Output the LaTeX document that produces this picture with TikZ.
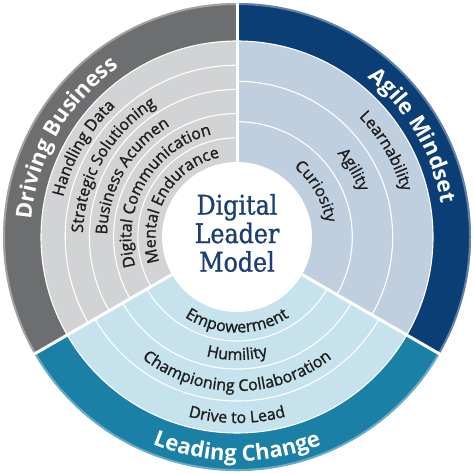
\documentclass[tikz,border=0pt]{standalone}
\usepackage{fontspec}
\setsansfont{Open Sans}
\newfontfamily\ringface[FakeBold=1.2]{Open Sans}
\newfontfamily\modelfont[FakeStretch=0.88, FakeBold=1]{DejaVu Serif}
\usetikzlibrary{decorations.text}

\definecolor{dbdark}{HTML}{6D6E70}
\definecolor{dblight}{HTML}{D2D3D5}
\definecolor{amdark}{HTML}{0B3E75}
\definecolor{amlight}{HTML}{C0CFE0}
\definecolor{lcdark}{HTML}{1A80A5}
\definecolor{lclight}{HTML}{C6E2EC}
\definecolor{modelblue}{HTML}{1B3F73}
\definecolor{ringink}{HTML}{1E1C1D}

\newcommand{\ringfont}{\ringface\fontsize{16}{16}\selectfont\color{ringink}}
\newcommand{\headfont}{\sffamily\bfseries\fontsize{22}{22}\selectfont\color{white}}

\begin{document}
\begin{tikzpicture}[x=1pt, y=1pt,
  sep/.style={draw=white, line width=3pt},
  ringline/.style={draw=white, line width=1.1pt},
  ringlabel/.style={decorate, decoration={text along path, text align=center, text={|\ringfont|#1}}},
  headlabel/.style={decorate, decoration={text along path, text align=center, text={|\headfont|#1}}}
]
\useasboundingbox (0,0) rectangle (474,474);
\begin{scope}[shift={(237,237)}]
% sectors
\fill[dbdark] (0,0) -- (90:234pt) arc[start angle=90, end angle=210, radius=234pt] -- cycle;
\fill[amdark] (0,0) -- (90:234pt) arc[start angle=90, end angle=-30, radius=234pt] -- cycle;
\fill[lcdark] (0,0) -- (210:234pt) arc[start angle=210, end angle=330, radius=234pt] -- cycle;
\fill[dblight] (0,0) -- (90:196pt) arc[start angle=90, end angle=210, radius=196pt] -- cycle;
\fill[amlight] (0,0) -- (90:196pt) arc[start angle=90, end angle=-30, radius=196pt] -- cycle;
\fill[lclight] (0,0) -- (210:196pt) arc[start angle=210, end angle=330, radius=196pt] -- cycle;
\draw[white, opacity=0.35, line width=2pt] (0,0) circle[radius=233pt];

% rings
\foreach \r in {171.8,147.6,123.4,99.2}
  \draw[ringline] (90:\r pt) arc[start angle=90, end angle=210, radius=\r pt];
\foreach \r in {155.7,115.3}
  \draw[ringline] (90:\r pt) arc[start angle=90, end angle=-30, radius=\r pt];
\foreach \r in {104,132,164}
  \draw[ringline] (210:\r pt) arc[start angle=210, end angle=330, radius=\r pt];
\draw[ringline] (0,0) circle[radius=196pt];

\foreach \a in {90,210,330}
  \draw[sep] (\a:70pt) -- (\a:236pt);

% hub
\node[circle, fill=white, inner sep=0pt, minimum size=150pt] (hub) at (0,0) {};
\node[text=modelblue, font=\modelfont\fontsize{27}{28.5}\selectfont, align=center] (model) at (0,4) {Digital\\Leader\\Model};

% Driving Business
\path[headlabel=Driving Business] (210:206.5pt) arc[start angle=210, end angle=90, radius=206.5pt];
\path[ringlabel=Handling Data] (210:178.3pt) arc[start angle=210, end angle=90, radius=178.3pt];
\path[ringlabel=Strategic Solutioning] (210:154.1pt) arc[start angle=210, end angle=90, radius=154.1pt];
\path[ringlabel=Business Acumen] (210:129.9pt) arc[start angle=210, end angle=90, radius=129.9pt];
\path[ringlabel=Digital Communication] (210:105.7pt) arc[start angle=210, end angle=90, radius=105.7pt];
\path[ringlabel=Mental Endurance] (210:81.5pt) arc[start angle=210, end angle=90, radius=81.5pt];

% Agile Mindset
\path[headlabel=Agile Mindset] (90:206.5pt) arc[start angle=90, end angle=-30, radius=206.5pt];
\path[ringlabel=Learnability] (90:171pt) arc[start angle=90, end angle=-30, radius=171pt];
\path[ringlabel=Agility] (90:130.5pt) arc[start angle=90, end angle=-30, radius=130.5pt];
\path[ringlabel=Curiosity] (90:90pt) arc[start angle=90, end angle=-30, radius=90pt];

% Leading Change
\path[headlabel=Leading Change] (210:224pt) arc[start angle=210, end angle=330, radius=224pt];
\path[ringlabel=Empowerment] (210:95.5pt) arc[start angle=210, end angle=330, radius=95.5pt];
\path[ringlabel=Humility] (210:123pt) arc[start angle=210, end angle=330, radius=123pt];
\path[ringlabel=Championing Collaboration] (210:154pt) arc[start angle=210, end angle=330, radius=154pt];
\path[ringlabel=Drive to Lead] (210:186pt) arc[start angle=210, end angle=330, radius=186pt];
\end{scope}
\end{tikzpicture}
\end{document}
